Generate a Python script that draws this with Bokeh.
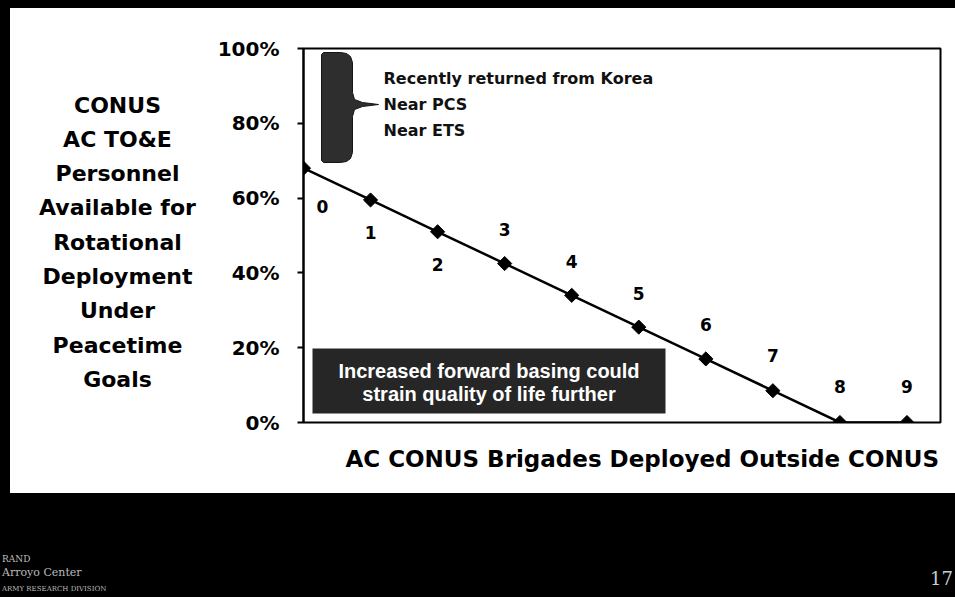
import math
from bokeh.plotting import figure
from bokeh.models import (Range1d, FixedTicker, PrintfTickFormatter, Label, BoxAnnotation,
                          ColumnDataSource, Title, Div)
from bokeh.layouts import column, row
from bokeh.embed import file_html
from bokeh.resources import INLINE
from bokeh.core.properties import value

# ---------------- data ----------------
brigades = [0, 1, 2, 3, 4, 5, 6, 7, 8, 9]
available_pct = [68, 59.5, 51, 42.5, 34, 25.5, 17, 8.5, 0, 0]
point_labels = ["0", "1", "2", "3", "4", "5", "6", "7", "8", "9"]
y_ticks = [0, 20, 40, 60, 80, 100]
y_title_lines = ["CONUS", "AC TO&E", "Personnel", "Available for", "Rotational",
                 "Deployment", "Under", "Peacetime", "Goals"]
x_title = "AC CONUS Brigades Deployed Outside CONUS"
bracket_lines = ["Recently returned from Korea", "Near PCS", "Near ETS"]
callout_lines = ["Increased forward basing could", "strain quality of life further"]
footer_lines = ["RAND", "Arroyo Center", "ARMY RESEARCH DIVISION"]
page_number = "17"

# ---------------- styles / layout ----------------
label_dx = [19, 0, 0, 0, 0, 0, 0, 0, 0, 0]
label_dy = [38, 33, 33, -34, -34, -34, -34, -35, -36, -36]

OY = 8                      # top of the white panel on the page
PANEL_L, SPLIT, PAGE_W = 10, 205, 955
H_TOP = 485
PL, PT, PR, PB = 303, 48, 940, 422   # chart frame on the page
X_MAX, Y_MAX = 9.5, 100


def xd(page_x):
    return (page_x - PL) / (PR - PL) * X_MAX


def yd(page_y):
    return (PB - page_y) / (PB - PT) * Y_MAX


# ---------------- left title panel ----------------
lt = figure(width=SPLIT - PANEL_L, height=H_TOP, x_range=Range1d(PANEL_L, SPLIT),
            y_range=Range1d(PB, PT), output_backend="svg", toolbar_location=None,
            x_axis_location=None, y_axis_location=None,
            min_border_left=0, min_border_right=0, min_border_top=PT - OY,
            min_border_bottom=OY + H_TOP - PB)
lt.background_fill_color = "white"
lt.border_fill_color = "white"
lt.outline_line_color = "white"
lt.outline_line_width = 2
lt.grid.visible = False
for i, line in enumerate(y_title_lines):
    lt.add_layout(Label(x=117, y=104.5 + 34.3 * i, text=line, text_align="center",
                        text_baseline="middle", text_font="DejaVu Sans", text_font_style="bold",
                        text_font_size="22px", text_color="black"))

# ---------------- chart ----------------
p = figure(width=PAGE_W - SPLIT, height=H_TOP, x_range=Range1d(0, X_MAX),
           y_range=Range1d(0, Y_MAX), output_backend="svg", toolbar_location=None,
           x_axis_location=None,
           min_border_left=PL - SPLIT, min_border_top=PT - OY,
           min_border_right=PAGE_W - PR, min_border_bottom=OY + H_TOP - PB)
p.background_fill_color = "white"
p.border_fill_color = "white"
p.outline_line_color = "black"
p.outline_line_width = 2
p.grid.visible = False

ya = p.yaxis[0]
ya.ticker = FixedTicker(ticks=y_ticks)
ya.formatter = PrintfTickFormatter(format="%d%%")
ya.major_label_text_font = "DejaVu Sans"
ya.major_label_text_font_style = "bold"
ya.major_label_text_font_size = "20px"
ya.major_label_text_color = "black"
ya.major_tick_out = 6
ya.major_tick_in = 0
ya.minor_tick_out = 0
ya.minor_tick_in = 0
ya.axis_line_width = 2
ya.major_tick_line_width = 2
ya.major_label_standoff = 18

p.add_layout(Title(text=x_title, align="left", offset=42, standoff=43,
                   text_font="DejaVu Sans", text_font_style="bold", text_font_size="23px",
                   text_color="black"), "below")

# bracket (decoration)
brace_px = [(321, 54), (323, 52), (340, 52), (346, 53), (350, 56), (352, 62), (352, 92),
            (354, 99), (362, 102), (378, 104), (362, 106), (354, 109), (352, 116),
            (352, 152), (350, 158), (346, 161), (340, 162), (323, 162), (321, 160)]
p.patch([xd(a) for a, b in brace_px], [yd(b) for a, b in brace_px],
        fill_color="#2e2e2e", line_color="#151515", line_width=1)

# callout box
p.add_layout(BoxAnnotation(left=xd(312), right=xd(665), bottom=yd(413), top=yd(348),
                           fill_color="#262626", fill_alpha=1, line_color=None))

src = ColumnDataSource(dict(x=brigades, y=available_pct, t=point_labels, dx=label_dx, dy=label_dy))
p.line("x", "y", source=src, line_color="black", line_width=2.5)
p.scatter("x", "y", source=src, marker="square", angle=math.pi / 4, size=10,
          fill_color="black", line_color="black")
p.text("x", "y", text="t", source=src, x_offset="dx", y_offset="dy",
       text_font=value("DejaVu Sans"), text_font_style="bold", text_font_size="17px",
       text_align="center", text_baseline="middle", text_color="black")

for i, line in enumerate(bracket_lines):
    p.add_layout(Label(x=xd(383), y=yd(78 + 26 * i), text=line, text_align="left",
                       text_baseline="middle", text_font="DejaVu Sans", text_font_style="bold",
                       text_font_size="16px", text_color="#111111"))

for i, line in enumerate(callout_lines):
    p.add_layout(Label(x=xd(488.5), y=yd(370 + 23.5 * i), text=line, text_align="center",
                       text_baseline="middle", text_font="Liberation Sans", text_font_style="bold",
                       text_font_size="20px", text_color="white"))

# ---------------- footer ----------------
span = ('<span style="position:absolute;left:{l}px;top:{t}px;font-family:\'DejaVu Serif\';'
        'font-size:{s}px;color:#bbbbbb;white-space:nowrap;line-height:1">{txt}</span>')
foot = [(2, 62, 9, footer_lines[0]), (2, 74, 11, footer_lines[1]), (2, 93, 7, footer_lines[2])]
inner = "".join(span.format(l=l, t=t, s=s, txt=txt) for l, t, s, txt in foot)
inner += ('<span style="position:absolute;right:2px;top:77px;font-family:\'DejaVu Serif\';'
          'font-size:18px;color:#cccccc;line-height:1">%s</span>' % page_number)
footer = Div(text='<div style="position:relative;width:955px;height:104px;background:#000;'
                  'overflow:hidden">' + inner + '</div>',
             width=PAGE_W, height=104, margin=0, styles={"background-color": "#000000"})

top = row(lt, p, spacing=0, margin=(OY, 0, 0, PANEL_L), styles={"background-color": "#ffffff"})
layout = column(top, footer, spacing=0)
html = file_html(layout, INLINE)
html = html.replace("</head>",
                    "<style>html, body { background-color: #000000 !important; }</style></head>", 1)
open("out.html", "w").write(html)
